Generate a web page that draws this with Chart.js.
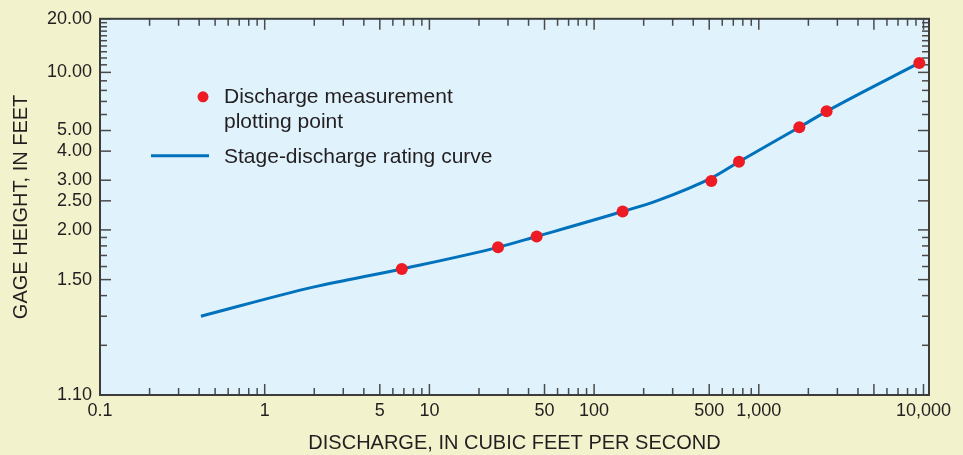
<!DOCTYPE html>
<html>
<head>
<meta charset="utf-8">
<title>Stage-discharge rating curve</title>
<script src="https://cdn.jsdelivr.net/npm/chart.js@4.4.0/dist/chart.umd.min.js"></script>
<style>
  html, body { margin: 0; padding: 0; background: #f2f3cd; }
  #wrap { width: 963px; height: 455px; position: relative; }
</style>
</head>
<body>
<div id="wrap"><canvas id="ratingChart"></canvas></div>
<script>
// Rating curve (discharge in ft3/s, gage height in ft)
const curveQ  = [0.41, 1.97, 6.8, 26.1, 44.8, 149, 240, 529, 758, 1762, 2580, 9430];
const curveGH = [1.30, 1.45, 1.58, 1.784, 1.913, 2.292, 2.50, 3.09, 3.586, 5.186, 6.225, 11.27];

// Discharge measurements
const measQ  = [6.8, 26.1, 44.8, 149, 515, 758, 1762, 2580, 9430];
const measGH = [1.58, 1.784, 1.913, 2.292, 2.978, 3.586, 5.186, 6.225, 11.27];

// Axis ticks
const xTickValues = [0.1, 1, 5, 10, 50, 100, 500, 1000, 10000];
const xTickLabels = ['0.1', '1', '5', '10', '50', '100', '500', '1,000', '10,000'];
const xLongTicks  = [0.1, 1, 5, 10, 50, 100, 500, 1000, 5000, 10000];
const xShortTicks = [0.2, 0.3, 0.4, 0.5, 0.6, 0.7, 0.8, 0.9, 2, 3, 4, 6, 7, 8, 9,
                     20, 30, 40, 60, 70, 80, 90, 200, 300, 400, 600, 700, 800, 900,
                     2000, 3000, 4000, 6000, 7000, 8000, 9000];
const yTickValues = [1.1, 1.5, 2, 2.5, 3, 4, 5, 10, 20];
const yShortTicks = [1.2, 1.3, 1.4, 1.6, 1.7, 1.8, 1.9, 6, 7, 8, 9,
                     11, 12, 13, 14, 15, 16, 17, 18, 19];

const GH_OFFSET = 1.0; // gage height of zero flow, y axis is log(GH - offset)

const FONT = '"Liberation Sans", Arial, Helvetica, sans-serif';
const TEXT = '#231f20';
const LINE_BLUE = '#0072bc';
const DOT_RED = '#ed1c24';

const toPts = (xs, ys) => xs.map((q, i) => ({ x: q, y: ys[i] - GH_OFFSET }));

const framePlugin = {
    id: 'frame',
    beforeDraw(chart) {
        const { ctx, chartArea: a } = chart;
        ctx.save();
        ctx.fillStyle = '#e0f2fc';
        ctx.fillRect(a.left, a.top, a.right - a.left, a.bottom - a.top);
        ctx.restore();
    },
    beforeDatasetsDraw(chart) {
        const { ctx, chartArea: a } = chart;
        const xs = chart.scales.x, ys = chart.scales.y;
        ctx.save();
        ctx.strokeStyle = '#4a4a4a';
        ctx.lineWidth = 1.5;
        const seg = (x1, y1, x2, y2) => { ctx.beginPath(); ctx.moveTo(x1, y1); ctx.lineTo(x2, y2); ctx.stroke(); };
        // x ticks, bottom and top, pointing inward
        const xt = (v, len) => {
            const px = xs.getPixelForValue(v);
            seg(px, a.bottom, px, a.bottom - len);
            seg(px, a.top, px, a.top + len);
        };
        xLongTicks.forEach(v => xt(v, 11));
        xShortTicks.forEach(v => xt(v, 7));
        // y ticks, left and right
        const yt = (v, len) => {
            const py = ys.getPixelForValue(v - GH_OFFSET);
            seg(a.left, py, a.left + len, py);
            seg(a.right, py, a.right - len, py);
        };
        yTickValues.forEach(v => yt(v, 11));
        yShortTicks.forEach(v => yt(v, 7));
        // frame
        ctx.strokeStyle = '#3c3c3c';
        ctx.lineWidth = 2;
        ctx.strokeRect(a.left, a.top, a.right - a.left, a.bottom - a.top);
        ctx.restore();
    },
    afterDatasetsDraw(chart) {
        // legend box inside the plot
        const { ctx, chartArea: a } = chart;
        ctx.save();
        ctx.fillStyle = DOT_RED;
        ctx.beginPath();
        ctx.arc(a.left + 103, a.top + 78, 5.5, 0, Math.PI * 2);
        ctx.fill();
        ctx.strokeStyle = LINE_BLUE;
        ctx.lineWidth = 3;
        ctx.beginPath();
        ctx.moveTo(a.left + 51, a.top + 137);
        ctx.lineTo(a.left + 109, a.top + 137);
        ctx.stroke();
        ctx.fillStyle = TEXT;
        ctx.font = '21px ' + FONT;
        ctx.textBaseline = 'middle';
        ctx.textAlign = 'left';
        ctx.fillText(chart.data.datasets[0].label, a.left + 124, a.top + 78);
        ctx.fillText('plotting point', a.left + 124, a.top + 103);
        ctx.fillText(chart.data.datasets[1].label, a.left + 124, a.top + 138);
        ctx.restore();
    }
};

new Chart(document.getElementById('ratingChart'), {
    type: 'scatter',
    data: {
        datasets: [{
            label: 'Discharge measurement',
            data: toPts(measQ, measGH),
            backgroundColor: DOT_RED,
            borderWidth: 0,
            pointRadius: 6,
            pointHoverRadius: 6,
            order: 1
        }, {
            label: 'Stage-discharge rating curve',
            data: toPts(curveQ, curveGH),
            showLine: true,
            borderColor: LINE_BLUE,
            borderWidth: 3,
            pointRadius: 0,
            cubicInterpolationMode: 'monotone',
            order: 2
        }]
    },
    options: {
        responsive: true,
        maintainAspectRatio: false,
        devicePixelRatio: 1,
        animation: false,
        layout: { padding: { top: 17, right: 34, left: 0, bottom: 0 } },
        plugins: {
            legend: { display: false },
            tooltip: { enabled: false }
        },
        scales: {
            x: {
                type: 'logarithmic',
                min: 0.1,
                max: 10800,
                grid: { display: false, drawTicks: false },
                border: { display: false },
                afterBuildTicks: scale => { scale.ticks = xTickValues.map(v => ({ value: v })); },
                afterFit: scale => { scale.height = 60; },
                ticks: {
                    autoSkip: false,
                    maxRotation: 0,
                    padding: 5,
                    color: TEXT,
                    font: { family: FONT, size: 18 },
                    callback: (value, index) => xTickLabels[index]
                },
                title: {
                    display: true,
                    text: 'DISCHARGE, IN CUBIC FEET PER SECOND',
                    color: TEXT,
                    font: { family: FONT, size: 20 },
                    padding: { top: 0, bottom: 0 }
                }
            },
            y: {
                type: 'logarithmic',
                min: 1.1 - GH_OFFSET,
                max: 20 - GH_OFFSET,
                grid: { display: false, drawTicks: false },
                border: { display: false },
                afterBuildTicks: scale => { scale.ticks = yTickValues.map(v => ({ value: v - GH_OFFSET })); },
                afterFit: scale => { scale.width = 100; },
                ticks: {
                    autoSkip: false,
                    padding: 8,
                    color: TEXT,
                    font: { family: FONT, size: 18 },
                    callback: (value, index) => yTickValues[index].toFixed(2)
                },
                title: {
                    display: true,
                    text: 'GAGE HEIGHT, IN FEET',
                    color: TEXT,
                    font: { family: FONT, size: 20 },
                    padding: { top: 9, bottom: 0 }
                }
            }
        }
    },
    plugins: [framePlugin]
});
</script>
</body>
</html>
